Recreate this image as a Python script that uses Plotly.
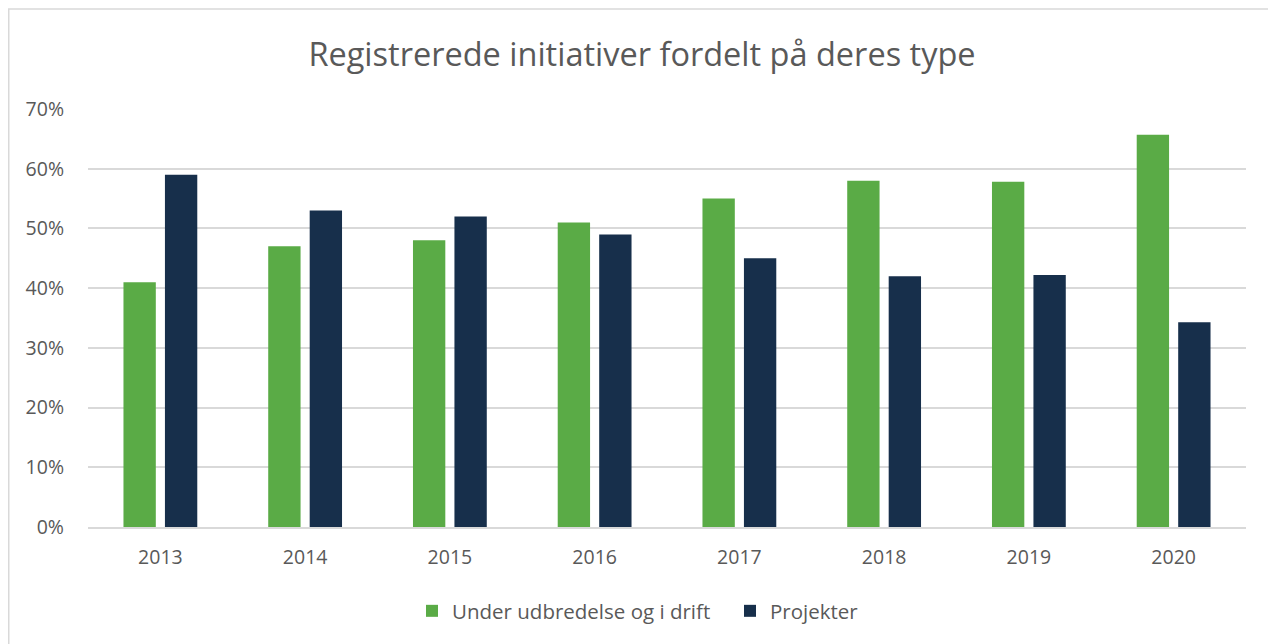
import plotly.graph_objects as go

years = ["2013", "2014", "2015", "2016", "2017", "2018", "2019", "2020"]
drift = [0.41, 0.47, 0.48, 0.51, 0.55, 0.58, 0.578, 0.657]
projekter = [0.59, 0.53, 0.52, 0.49, 0.45, 0.42, 0.422, 0.343]
series_names = ["Under udbredelse og i drift", "Projekter"]
colors = ["#5AAB46", "#172F4B"]
title = "Registrerede initiativer fordelt på deres type"
y_ticks = [0, 0.1, 0.2, 0.3, 0.4, 0.5, 0.6, 0.7]
y_ticklabels = ["0%", "10%", "20%", "30%", "40%", "50%", "60%", "70%"]

FONT = "Open Sans"
TXT = "#595959"
W, H = 1268, 636
L, R, T, B = 80, 30, 101, 117
PW, PH = W - L - R, H - T - B

fig = go.Figure()
for name, vals, col in zip(series_names, [drift, projekter], colors):
    fig.add_trace(go.Bar(x=years, y=vals, name=name, marker=dict(color=col, line=dict(width=0))))

fig.update_layout(
    width=W, height=H,
    paper_bgcolor="white", plot_bgcolor="white",
    margin=dict(l=L, r=R, t=T, b=B, autoexpand=False),
    barmode="group", bargap=0.427, bargroupgap=0.22,
    font=dict(family=FONT, color=TXT),
    title=dict(text=title, x=0.5, xanchor="center", y=1 - 47 / H, yanchor="middle",
               font=dict(family=FONT, size=32.5, color=TXT)),
    legend=dict(orientation="h", x=0.5544, xanchor="center", y=-(603 - (T + PH)) / PH, yanchor="middle",
                font=dict(family=FONT, size=20.5, color=TXT),
                entrywidth=273, entrywidthmode="pixels",
                traceorder="normal"),
    xaxis=dict(showgrid=False, showline=True, linecolor="#D9D9D9", linewidth=1.5,
               ticks="", ticklabelstandoff=12,
               tickfont=dict(family=FONT, size=19.5, color=TXT)),
    yaxis=dict(range=[0, 0.7], tickvals=y_ticks, ticktext=y_ticklabels,
               showgrid=True, gridcolor="#D9D9D9", gridwidth=1.5, zeroline=False,
               showline=False, ticks="", ticklabelstandoff=23,
               tickfont=dict(family=FONT, size=19.5, color=TXT)),
    shapes=[dict(type="rect", xref="paper", yref="paper",
                 x0=(0.75 - L) / PW, x1=(1267 - L) / PW,
                 y0=-1.0, y1=(T + PH - 1) / PH,
                 line=dict(color="#D9D9D9", width=1.5), fillcolor="rgba(0,0,0,0)", layer="below")],
)
fig.write_html("out.html")
